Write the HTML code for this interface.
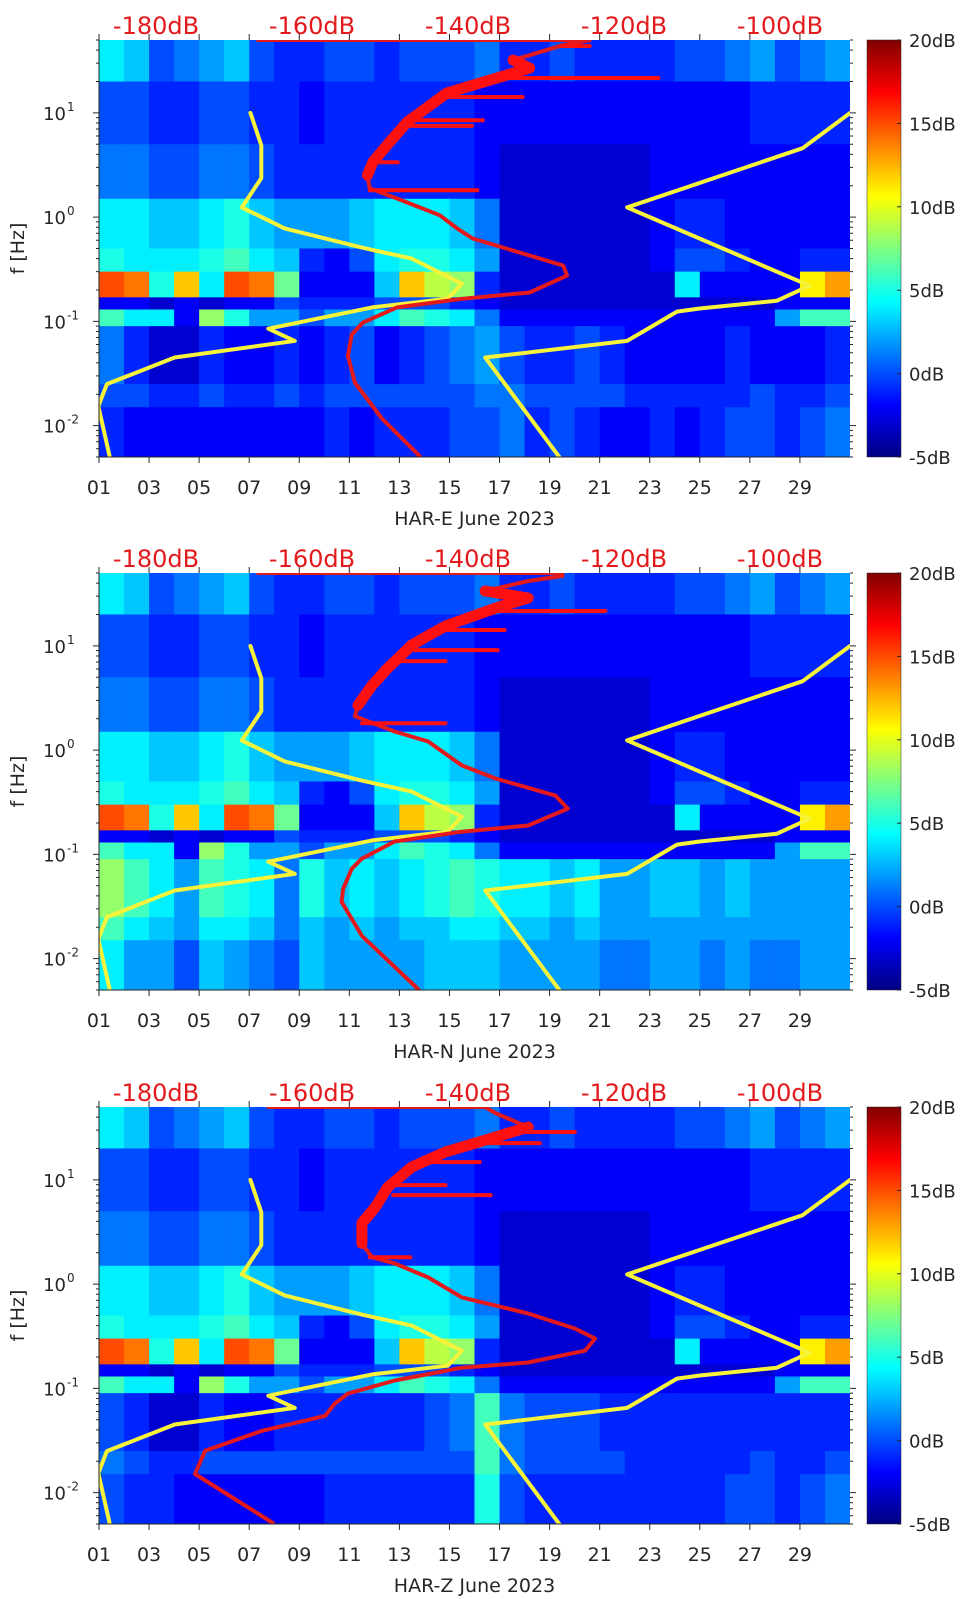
<!DOCTYPE html>
<html><head><meta charset="utf-8">
<style>
html,body{margin:0;padding:0;background:#fff;}
svg{display:block;font-family:"DejaVu Sans","Liberation Sans",sans-serif;}
</style></head>
<body>
<svg id="fig" width="962" height="1599" viewBox="0 0 962 1599" xmlns="http://www.w3.org/2000/svg">
<defs>
<linearGradient id="jetgrad" x1="0" y1="1" x2="0" y2="0">
<stop offset="0" stop-color="#000080"/><stop offset="0.125" stop-color="#0000ff"/>
<stop offset="0.375" stop-color="#00ffff"/><stop offset="0.625" stop-color="#ffff00"/>
<stop offset="0.875" stop-color="#ff0000"/><stop offset="1" stop-color="#800000"/>
</linearGradient>
</defs>
<rect width="962" height="1599" fill="#fff"/>
</svg>
<script>
// ---- data ----
const bandEdges = [50,20,5,1.5,0.5,0.3,0.17,0.13,0.09,0.025,0.015,0.005];
const rowA = [4,3,0,1,2,3,0,-1,-1,0,0,-1,0,0,0,1,-1,-1,0,-1,-1,-1,-1,0,0,1,2,0,1,2];
const rowB = [0,0,-1,-1,0,0,-1,-1,-2,-1,-1,-1,-1,-1,-1,-2,-2,-2,-2,-2,-2,-2,-2,-2,-2,-2,-1,-1,-1,-1];
const rowC = [1,1,0,0,1,1,0,-1,-1,-1,-1,-1,-1,-1,-1,-2,-3,-3,-3,-3,-3,-3,-2,-2,-2,-2,-2,-2,-2,-2];
const rowD = [4,4,3,3,4,5,3,2,2,2,3,4,4,4,3,1,-3,-3,-3,-3,-3,-3,-2,-1,-1,-2,-2,-2,-2,-2];
const rowE = [5,4,4,4,5,6,4,3,-1,-2,0,4,5,5,4,2,-3,-3,-3,-3,-3,-3,-2,0,0,-1,-2,-2,-1,-1];
const rowF = [15,14,5,12,4,15,14,7,-2,-2,-2,3,12,9,8,-1,-3,-3,-3,-3,-3,-3,-3,4,-2,-2,-2,-2,11,13];
const rowG = [-2,-2,-3,-2,-3,-2,-2,0,-1,-1,-1,0,0,0,-1,-2,-3,-3,-3,-3,-3,-3,-3,-3,-3,-3,-3,-2,-2,-2];
const rowH = [6,4,4,-2,8,5,2,2,0,2,2,4,6,5,4,1,-2,-2,-2,-2,-2,-2,-2,-2,-2,-2,-2,2,6,6];
const rowI_E = [1,-1,-3,-3,-1,-2,-2,-1,-2,-1,0,-2,-1,0,1,2,0,-1,-1,0,-1,-2,-2,-2,-2,-1,-2,-2,-2,-1];
const rowJ_E = [0,0,-1,-1,0,-1,-1,0,-1,0,0,0,0,0,0,1,1,0,0,0,0,-1,-1,-1,-1,-1,0,-1,-1,0];
const rowK_E = [-1,-2,-2,-2,-2,-2,-2,-2,-2,-1,-2,-1,-1,-1,0,0,1,-1,0,-1,-2,-2,-1,-2,-1,0,0,-1,0,1];
const rowI_N = [8,6,4,2,6,5,4,1,5,3,4,3,4,5,6,5,4,4,3,4,2,2,3,3,2,3,2,2,2,2];
const rowJ_N = [6,4,3,2,4,4,3,1,3,2,3,2,3,3,4,4,3,3,2,3,2,2,2,2,2,2,2,2,2,2];
const rowK_N = [4,2,2,0,3,2,1,0,3,2,2,2,2,3,3,3,2,2,2,2,1,1,2,2,1,2,1,1,2,2];
const rowI_Z = [0,-1,-3,-3,-1,-2,-2,-1,-1,-1,-1,-1,-1,0,1,6,1,0,0,0,-1,-1,-1,-1,-1,-1,-1,-1,-1,-1];
const rowJ_Z = [1,0,-1,-1,0,0,0,0,0,0,0,0,0,0,0,6,1,0,0,0,0,-1,-1,-1,-1,-1,0,-1,-1,0];
const rowK_Z = [0,-1,-1,-2,-2,-2,-2,-2,-2,-1,-1,-1,-1,-1,-1,5,0,-1,-1,-1,-1,-1,-1,-1,-1,0,0,-1,0,1];

const nlnmFreq = [10,4.89,2.36,1.24,0.78,0.51,0.40,0.23,0.165,0.136,0.085,0.065,0.045,0.025,0.0154,0.0049];
const nlnmDb   = [-167.9,-166.5,-166.5,-169.0,-163.5,-153.6,-147.2,-140.8,-142.6,-152.3,-165.6,-162.2,-177.6,-186.3,-187.4,-185.9];
const nhnmFreq = [10,4.58,1.24,0.22,0.158,0.133,0.124,0.065,0.045,0.0049];
const nhnmDb   = [-91.0,-97.1,-119.6,-96.2,-100.4,-110.3,-113.2,-119.6,-137.8,-128.2];

const redFreqE = [50,50,44.7,32.1,26.9,21.6,15.5,8.15,4.89,3.36,2.52,1.89,1.51,1.04,0.78,0.624,0.428,0.343,0.275,0.189,0.165,0.136,0.097,0.075,0.0468,0.0258,0.0116,0.0051];
const redDbE   = [-166.9,-124.4,-127.8,-134.2,-132.1,-136.3,-142.7,-147.8,-150.4,-152.2,-152.9,-152.6,-149.1,-143.6,-141.4,-139.4,-132.1,-127.8,-127.3,-132.1,-140.6,-149.1,-153.5,-154.9,-155.4,-154.5,-151.0,-146.2];
const redFreqN = [50,50,46.8,41.9,33.6,28.8,23.0,15.5,10.2,6.11,4.19,2.69,2.11,1.51,1.21,0.713,0.535,0.366,0.275,0.189,0.165,0.133,0.091,0.0728,0.0468,0.0351,0.0165,0.0051];
const redDbN   = [-166.9,-127.9,-127.9,-132.3,-137.8,-132.3,-136.5,-142.9,-147.2,-150.3,-152.3,-154.1,-154.5,-149.4,-145.1,-140.8,-136.5,-128.8,-127.2,-132.3,-140.8,-149.4,-153.6,-154.9,-156.0,-156.2,-153.6,-146.4];
const redFreqZ = [50,50,43.8,32.1,25.7,18.5,13.3,8.5,5.46,3.84,2.46,1.81,1.58,1.16,0.745,0.523,0.375,0.30,0.23,0.177,0.158,0.119,0.089,0.0713,0.0546,0.0392,0.0252,0.0151,0.0051];
const redDbZ   = [-165.6,-137.8,-136.5,-132.3,-136.5,-142.9,-147.2,-150.3,-151.9,-153.6,-153.6,-152.3,-149.4,-145.1,-140.8,-132.3,-126.3,-123.7,-125.0,-132.3,-140.8,-149.4,-155.4,-157.1,-158.3,-166.4,-173.7,-175.0,-165.0];

const spurFreqE = [1.81,3.36,8.5,7.5,14.2,21.6,43.8];
const spurFromE = [-152.6,-152.2,-147.5,-148.5,-143,-136,-128];
const spurToE   = [-138.8,-149.0,-138.1,-139.5,-133.0,-115.6,-124.4];
const spurFreqN = [1.81,7.13,9.1,14.2,21.6];
const spurFromN = [-153.6,-149,-147,-143,-136];
const spurToN   = [-142.9,-142.9,-136.2,-135.3,-122.4];
const spurFreqZ = [1.81,7.13,8.9,14.8,22.5,28.8];
const spurFromZ = [-152.6,-149.6,-149,-146,-138,-133];
const spurToZ   = [-147.4,-137.1,-142.9,-138.5,-130.8,-126.3];

const dayTicks = ["01","03","05","07","09","11","13","15","17","19","21","23","25","27","29"];
const dbTicks = [-180,-160,-140,-120,-100];
const cbTicks = [20,15,10,5,0,-5];
const yMajor = [10,1,0.1,0.01];
const yExp = ["1","0","-1","-2"];

const panels = [
  {top:40, name:"HAR-E", rows:[rowA,rowB,rowC,rowD,rowE,rowF,rowG,rowH,rowI_E,rowJ_E,rowK_E], rf:redFreqE, rd:redDbE, sf:spurFreqE, s0:spurFromE, s1:spurToE},
  {top:573, name:"HAR-N", rows:[rowA,rowB,rowC,rowD,rowE,rowF,rowG,rowH,rowI_N,rowJ_N,rowK_N], rf:redFreqN, rd:redDbN, sf:spurFreqN, s0:spurFromN, s1:spurToN},
  {top:1107, name:"HAR-Z", rows:[rowA,rowB,rowC,rowD,rowE,rowF,rowG,rowH,rowI_Z,rowJ_Z,rowK_Z], rf:redFreqZ, rd:redDbZ, sf:spurFreqZ, s0:spurFromZ, s1:spurToZ}
];

// ---- geometry ----
const X0=99, X1=850, H=417, FMAX=50, FMIN=0.005;
const NS="http://www.w3.org/2000/svg";
const svg=document.getElementById('fig');
function xDay(d){return X0+(d-1)*(X1-X0)/30;}
function xDb(db){return 156+(db+180)*7.8;}
function yF(top,f){return top+(Math.log10(FMAX)-Math.log10(f))/(Math.log10(FMAX)-Math.log10(FMIN))*H;}
function jet(v){
  let t=Math.max(0,Math.min(1,(v+5)/25));
  const c=x=>Math.round(255*Math.max(0,Math.min(1,1.5-Math.abs(4*t-x))));
  return `rgb(${c(3)},${c(2)},${c(1)})`;
}
function el(tag,attrs,parent){const e=document.createElementNS(NS,tag);for(const k in attrs)e.setAttribute(k,attrs[k]);(parent||svg).appendChild(e);return e;}

panels.forEach((p,pi)=>{
  const T=p.top, B=T+H;
  const g=el('g',{});
  
  
  const clipId='clip'+pi;
  const cp=el('clipPath',{id:clipId},g); el('rect',{x:X0,y:T,width:X1-X0,height:H},cp);
  const hm=el('g',{'clip-path':`url(#${clipId})`},g);
  
  
  p.rows.forEach((row,ri)=>{
    const y0=yF(T,bandEdges[ri]), y1=yF(T,bandEdges[ri+1]);
    row.forEach((v,di)=>{
      const r=el('rect',{x:xDay(di+1),y:y0,width:(X1-X0)/30+0.6,height:y1-y0+0.6,fill:jet(v)},hm);
      
      
    });
  });
  const lines=el('g',{'clip-path':`url(#${clipId})`,fill:'none','stroke-linejoin':'round','stroke-linecap':'round'},g);
  function poly(fr,db,color,w,name){
    const pts=fr.map((f,i)=>xDb(db[i]).toFixed(1)+','+yF(T,f).toFixed(1)).join(' ');
    const pl=el('polyline',{points:pts,stroke:color,'stroke-width':w},lines);
    
    
  }
  poly(nlnmFreq,nlnmDb,'#f7f23a',4,'nlnm-line');
  poly(nhnmFreq,nhnmDb,'#f7f23a',4,'nhnm-line');
  poly(p.rf,p.rd,'#e3191c',4,'psd-red-line');
  const thF=[],thD=[];
  p.rf.forEach((f,i)=>{if(f>=2.4&&f<=40){thF.push(f);thD.push(p.rd[i]);}});
  poly(thF,thD,'#ff1010',11,'psd-red-band');
  p.sf.forEach((f,i)=>{
    const s=el('line',{x1:xDb(p.s0[i]),x2:xDb(p.s1[i]),y1:yF(T,f),y2:yF(T,f),stroke:'#ff1010','stroke-width':4},lines);
    
    
  });
  const ax=el('g',{stroke:'#262626','stroke-width':1,fill:'none'},g);
  
  
  el('line',{x1:X0,y1:T,x2:X0,y2:B},ax);
  el('line',{x1:X0,y1:B,x2:X1,y2:B},ax);
  for(let e=-3;e<=1;e++){for(let m=1;m<=9;m++){const f=m*Math.pow(10,e);if(f<FMIN||f>FMAX)continue;const y=yF(T,f);const L=m===1?6:3;
    el('line',{x1:X0-L,y1:y,x2:X0,y2:y},ax);el('line',{x1:X1,y1:y,x2:X1+L,y2:y},ax);}}
  dayTicks.forEach(d=>{const x=xDay(+d);el('line',{x1:x,y1:B,x2:x,y2:B+6},ax);el('line',{x1:x,y1:T-6,x2:x,y2:T},ax);
    const t=el('text',{x:x,y:B+37,'text-anchor':'middle','font-size':19,fill:'#262626'},g);t.textContent=d;
    });
  yMajor.forEach((f,i)=>{const y=yF(T,f);
    const t=el('text',{x:66,y:y+7,'text-anchor':'end','font-size':18,fill:'#262626'},g);t.textContent='10';
    
    const s=el('text',{x:67,y:y-2,'text-anchor':'start','font-size':12,fill:'#262626'},g);s.textContent=yExp[i];
    });
  const yl=el('text',{x:0,y:0,'text-anchor':'middle','font-size':19,fill:'#262626',transform:`translate(24,${T+H/2}) rotate(-90)`},g);
  yl.textContent='f [Hz]';
  const xt=el('text',{x:(X0+X1)/2,y:B+68,'text-anchor':'middle','font-size':19,fill:'#262626'},g);
  xt.textContent=p.name+' June 2023';
  dbTicks.forEach(d=>{const t=el('text',{x:xDb(d),y:T-6,'text-anchor':'middle','font-size':24,fill:'#e3191c'},g);t.textContent=d+'dB';
    });
  const cb=el('rect',{x:867,y:T,width:34,height:H,fill:'url(#jetgrad)',stroke:'#262626','stroke-width':0.5},g);
  
  cbTicks.forEach(v=>{const y=T+(20-v)/25*H;
    el('line',{x1:897,y1:y,x2:901,y2:y,stroke:'#262626'},g);
    const t=el('text',{x:909,y:y+7,'font-size':18,fill:'#262626'},g);t.textContent=v+'dB';
    });
});
</script>
</body></html>
